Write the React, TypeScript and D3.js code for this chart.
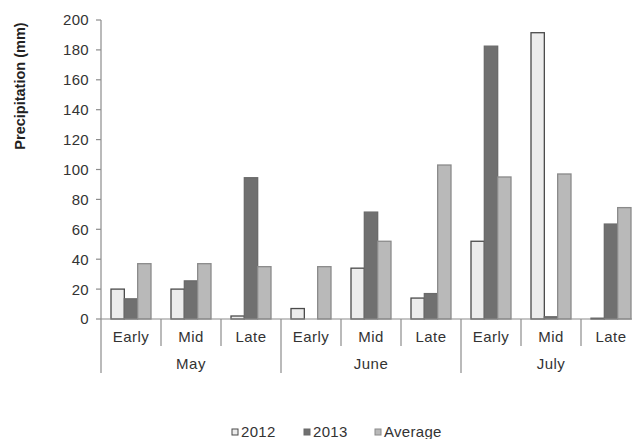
import React from "react";
import * as d3 from "d3";

const months = ["May", "June", "July"];
const periods = ["Early", "Mid", "Late"];
const seriesNames = ["2012", "2013", "Average"];
const values2012 = [20, 20, 2, 7, 34, 14, 52, 191.5, 0.5];
const values2013 = [13.5, 25.5, 94.5, 0, 71.5, 17, 182.5, 1.5, 63.5];
const valuesAvg = [37, 37, 35, 35, 52, 103, 95, 97, 74.5];
const yTicks = [0, 20, 40, 60, 80, 100, 120, 140, 160, 180, 200];

const fills = ["#ececec", "#707070", "#b9b9b9"];
const strokes = ["#4a4a4a", "#6a6a6a", "#8a8a8a"];

export default function App() {
  const W = 632, H = 439;
  const left = 101, right = 641, top = 20, bottom = 319;
  const cats = d3.range(9).map(String);
  const x = d3.scaleBand<string>().domain(cats).range([left, right]);
  const xs = d3.scaleBand<string>().domain(seriesNames).range([0, x.bandwidth()]).paddingOuter(0.75);
  const y = d3.scaleLinear().domain([0, 200]).range([bottom, top]);
  const series = [values2012, values2013, valuesAvg];
  const font = "'Liberation Sans', Arial, sans-serif";
  const axisColor = "#8c8c8c";
  const textColor = "#333";

  return (
    <svg width={W} height={H} style={{ position: "absolute", left: 0, top: 0, background: "#fff" }} fontFamily={font}>
      {/* y axis */}
      <line x1={left} x2={left} y1={top} y2={bottom} stroke={axisColor} strokeWidth={1.2} />
      {yTicks.map((t) => (
        <g key={t}>
          <line x1={left - 5} x2={left} y1={y(t)} y2={y(t)} stroke={axisColor} strokeWidth={1.2} />
          <text x={left - 12} y={y(t)} dy="0.36em" textAnchor="end" fontSize={15} letterSpacing={0.3} fill={textColor}>{t}</text>
        </g>
      ))}
      <text transform={`translate(25,86) rotate(-90)`} textAnchor="middle" fontSize={14.5} fontWeight="bold" fill="#222">Precipitation (mm)</text>

      {/* bars */}
      {series.map((vals, si) =>
        vals.map((v, i) => {
          const bx = (x(String(i)) as number) + (xs(seriesNames[si]) as number);
          return (
            <rect key={`${si}-${i}`} x={bx} y={y(v)} width={xs.bandwidth()} height={bottom - y(v)}
              fill={fills[si]} stroke={strokes[si]} strokeWidth={1.3} />
          );
        })
      )}

      {/* x axis */}
      <line x1={left} x2={right} y1={bottom} y2={bottom} stroke={axisColor} strokeWidth={1.2} />
      {cats.map((c, i) => {
        const x0 = x(c) as number;
        const isMonthStart = i % 3 === 0;
        return (
          <g key={c}>
            <line x1={x0} x2={x0} y1={bottom} y2={isMonthStart ? 373 : 346} stroke={axisColor} strokeWidth={1.2} />
            <text x={x0 + x.bandwidth() / 2} y={337} dy="0.36em" textAnchor="middle" fontSize={15} letterSpacing={0.5} fill={textColor}>{periods[i % 3]}</text>
          </g>
        );
      })}
      <line x1={right} x2={right} y1={bottom} y2={373} stroke={axisColor} strokeWidth={1.2} />
      {months.map((m, mi) => {
        const x0 = x(String(mi * 3)) as number;
        const x1 = (x(String(mi * 3 + 2)) as number) + x.bandwidth();
        return (
          <text key={m} x={(x0 + x1) / 2} y={364} dy="0.36em" textAnchor="middle" fontSize={15} letterSpacing={0.5} fill={textColor}>{m}</text>
        );
      })}

      {/* legend */}
      {seriesNames.map((s, si) => {
        const lx = [232, 304, 375][si];
        return (
          <g key={s}>
            <rect x={lx} y={429} width={6} height={6} fill={fills[si]} stroke={strokes[si]} strokeWidth={1} />
            <text x={lx + 9} y={432} dy="0.36em" fontSize={15} letterSpacing={0.3} fill={textColor}>{s}</text>
          </g>
        );
      })}
    </svg>
  );
}
